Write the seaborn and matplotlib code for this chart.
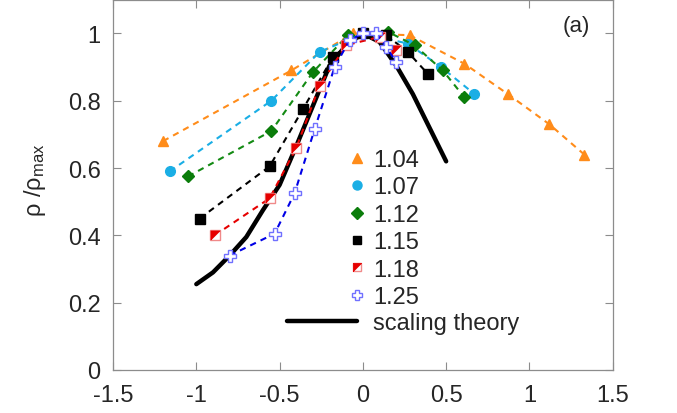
import matplotlib
matplotlib.use('Agg')
import matplotlib.pyplot as plt
import seaborn as sns
from matplotlib.lines import Line2D
from matplotlib.ticker import FuncFormatter, MultipleLocator

# normalised density profiles, one pair of lists per ratio
x_104 = [-1.20, -0.43, -0.06, 0.28, 0.61, 0.87, 1.12, 1.33]
y_104 = [0.68, 0.89, 1.00, 0.995, 0.91, 0.82, 0.73, 0.64]
x_107 = [-1.16, -0.55, -0.26, 0.0, 0.27, 0.47, 0.67]
y_107 = [0.59, 0.80, 0.945, 1.0, 0.97, 0.90, 0.82]
x_112 = [-1.05, -0.55, -0.30, -0.09, 0.15, 0.31, 0.48, 0.61]
y_112 = [0.575, 0.71, 0.885, 0.995, 1.005, 0.965, 0.89, 0.81]
x_115 = [-0.98, -0.56, -0.36, -0.18, 0.0, 0.14, 0.27, 0.39]
y_115 = [0.45, 0.605, 0.775, 0.93, 1.0, 0.995, 0.945, 0.88]
x_118 = [-0.89, -0.56, -0.40, -0.26, -0.10, 0.10, 0.20]
y_118 = [0.40, 0.51, 0.66, 0.845, 0.965, 0.99, 0.95]
x_125 = [-0.80, -0.53, -0.41, -0.29, -0.17, -0.08, 0.0, 0.08, 0.14, 0.20]
y_125 = [0.34, 0.405, 0.525, 0.715, 0.90, 0.98, 1.0, 1.0, 0.96, 0.915]

x_theory = [-1.0, -0.9, -0.8, -0.7, -0.6, -0.5, -0.4, -0.3, -0.2, -0.1,
            0.0, 0.1, 0.2, 0.3, 0.4, 0.5]
y_theory = [0.255, 0.29, 0.34, 0.395, 0.475, 0.55, 0.665, 0.785, 0.905, 0.965,
            1.0, 0.975, 0.905, 0.82, 0.72, 0.62]

labels = ['1.04', '1.07', '1.12', '1.15', '1.18', '1.25']

sns.set_style('ticks')
plt.rcParams['font.family'] = ['Liberation Sans', 'DejaVu Sans']
plt.rcParams['mathtext.fontset'] = 'custom'
plt.rcParams['mathtext.rm'] = 'Liberation Sans'
plt.rcParams['mathtext.it'] = 'Liberation Sans:italic'
plt.rcParams['axes.unicode_minus'] = False

FS = 17
GRAY = '#8c8c8c'
dash = (0, (3, 2.5))
half_tri = [(-1, -1), (-1, 1), (1, 1), (-1, -1)]

fig, ax = plt.subplots(figsize=(6.77, 4.14), dpi=100)
fig.subplots_adjust(left=0.167, right=0.905, bottom=0.104, top=0.998)

# scaling theory underneath the data
sns.lineplot(x=x_theory, y=y_theory, ax=ax, color='black', lw=3.2,
             estimator=None, sort=False, zorder=2)

styles = [
    dict(color='#ff8c1a', marker='^', ms=7, mfc='#ff8c1a', mec='#ff8c1a'),
    dict(color='#1aaee5', marker='o', ms=7, mfc='#1aaee5', mec='#1aaee5'),
    dict(color='#138a13', marker='D', ms=6.5, mfc='#0b7d0b', mec='#0b7d0b'),
    dict(color='black', marker='s', ms=6.5, mfc='black', mec='black'),
    dict(color='#e60000', marker='s', ms=6.5, mfc='white', mec='#f08a8a'),
    dict(color='#0000e6', marker='P', ms=8, mfc='white', mec='#7070ff'),
]
xs = [x_104, x_107, x_112, x_115, x_118, x_125]
ys = [y_104, y_107, y_112, y_115, y_118, y_125]

for i, (x, y, st) in enumerate(zip(xs, ys, styles)):
    sns.lineplot(x=x, y=y, ax=ax, estimator=None, sort=False, lw=1.5,
                 linestyle=dash, mew=1, zorder=3 + i, **st)
    if labels[i] == '1.18':
        # red upper-left half of the square marker
        sns.lineplot(x=x, y=y, ax=ax, estimator=None, sort=False,
                     linestyle='none', marker=half_tri, ms=6.5, mfc='#e60000',
                     mec='#e60000', mew=0.5, zorder=3 + i)

ax.set_xlim(-1.5, 1.5)
ax.set_ylim(0, 1.1)
ax.xaxis.set_major_locator(MultipleLocator(0.5))
ax.set_yticks([0, 0.2, 0.4, 0.6, 0.8, 1.0])
fmt = FuncFormatter(lambda v, p: '%g' % round(v, 2))
ax.xaxis.set_major_formatter(fmt)
ax.yaxis.set_major_formatter(fmt)
ax.tick_params(direction='in', length=6, width=0.8, color=GRAY,
               top=True, right=True, labelsize=FS, pad=9)
ax.tick_params(axis='x', pad=10)
for sp in ax.spines.values():
    sp.set_color(GRAY)
    sp.set_linewidth(0.9)

ax.set_ylabel(r'ρ /ρ$_{\mathrm{max}}$', fontsize=FS)
ax.yaxis.set_label_coords(-0.13, 0.516)
ax.text(0.927, 0.93, '(a)', transform=ax.transAxes, ha='center',
        va='center', fontsize=16)

# legend: markers on their own, then the theory line
handles = []
for lab, st in zip(labels, styles):
    h = Line2D([], [], linestyle='none', marker=st['marker'], ms=st['ms'] - 0.5,
               mfc=st['mfc'], mec=st['mec'], mew=1)
    if lab == '1.18':
        h = (h, Line2D([], [], linestyle='none', marker=half_tri, ms=st['ms'] - 0.5,
                       mfc='#e60000', mec='#e60000', mew=0.5))
    handles.append(h)
leg1 = ax.legend(handles, labels, loc='upper left', frameon=False, fontsize=FS,
                 handlelength=1.0, handletextpad=0.18, labelspacing=0.23,
                 borderpad=0, borderaxespad=0,
                 bbox_to_anchor=(345 / 677, 1 - 150 / 414),
                 bbox_transform=fig.transFigure)
ax.add_artist(leg1)
ax.legend([Line2D([], [], color='black', lw=3.2)], ['scaling theory'],
          loc='upper left', frameon=False, fontsize=FS, handlelength=2.97,
          handletextpad=0.68, borderpad=0, borderaxespad=0,
          bbox_to_anchor=(287 / 677, 1 - 313 / 414),
          bbox_transform=fig.transFigure)

fig.savefig('out.png', dpi=100)
